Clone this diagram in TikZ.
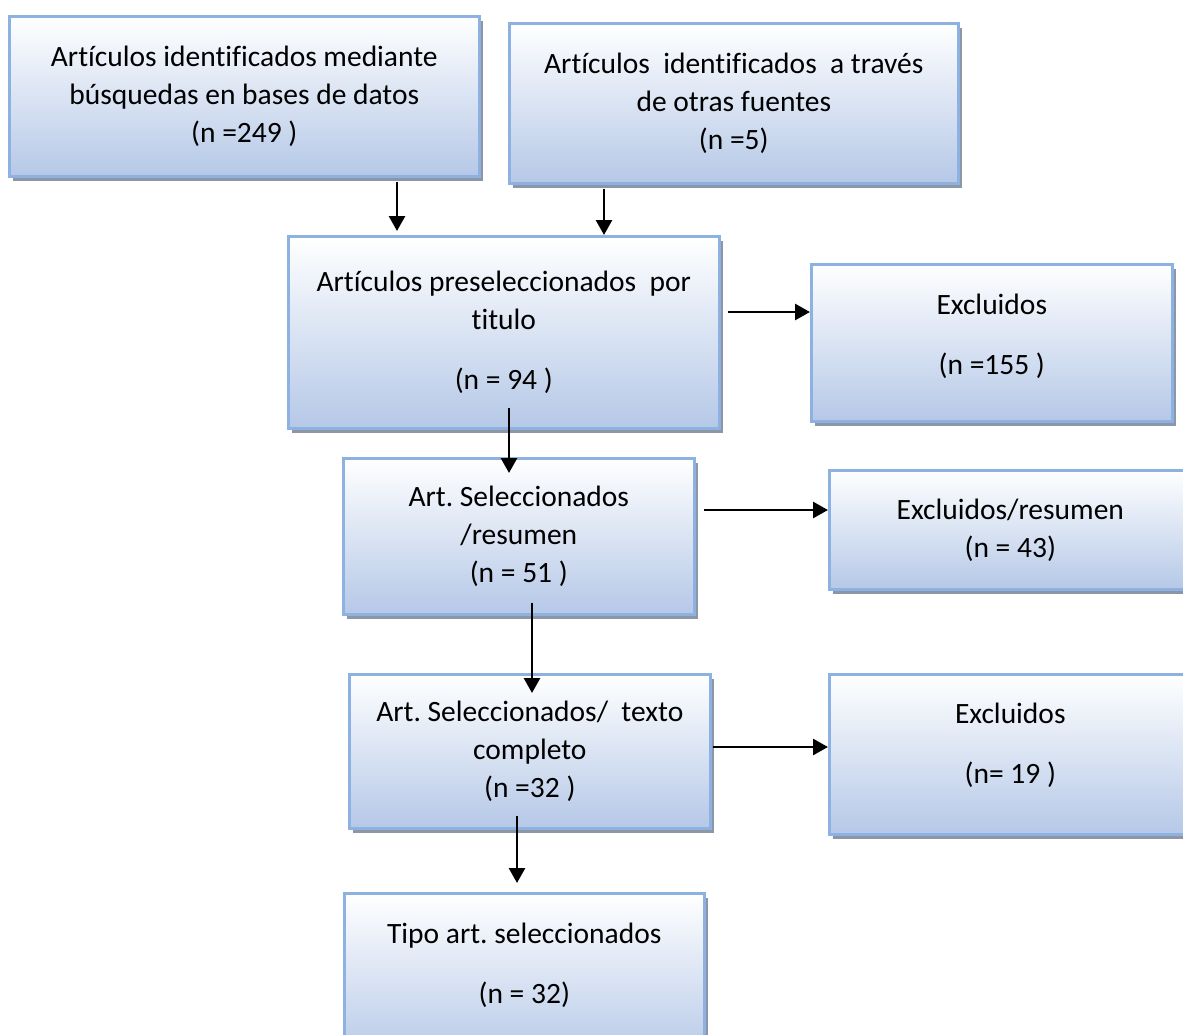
\documentclass[tikz,border=0pt]{standalone}
\usepackage{fontspec}
\setmainfont{Carlito}[Ligatures={NoCommon}]
\usetikzlibrary{shadows,arrows.meta}
\definecolor{boxline}{HTML}{8DB1E0}
\definecolor{boxbot}{HTML}{B5C8E7}
\definecolor{boxmid}{HTML}{D9E3F3}
\definecolor{shadowc}{HTML}{8C96A6}
\frenchspacing
\begin{document}
\begin{tikzpicture}[x=1pt,y=-1pt,
  pbox/.style={draw=boxline,line width=2.6pt,rectangle,anchor=north west,
    top color=white,middle color=boxmid,bottom color=boxbot,
    align=center,inner sep=0pt,
    font=\fontsize{29.5}{38}\selectfont,
    drop shadow={shadow xshift=4pt,shadow yshift=-5pt,fill=shadowc,opacity=1}},
  arr/.style={line width=2.8pt,-{Triangle[length=15pt,width=16pt]}}]
\useasboundingbox (0,0) rectangle (1183,1034);
\clip (0,0) rectangle (1183,1034);
\fill[white] (0,0) rectangle (1183,1034);

\node[pbox,minimum width=470pt,minimum height=160pt] (b1) at (8,15)
  {Artículos identificados mediante\\búsquedas en bases de datos\\(n =249 )};
\node[pbox,minimum width=449pt,minimum height=160pt] (b2) at (508,22)
  {Artículos\ \ identificados\ \ a través\\de otras fuentes\\(n =5)};
\node[pbox,minimum width=431pt,minimum height=192pt] (b3) at (287,235)
  {Artículos preseleccionados\ \ por\\titulo\\[22pt](n = 94 )};
\node[pbox,minimum width=361pt,minimum height=157pt] (e1) at (810,263)
  {Excluidos\\[22pt](n =155 )\\[-20pt]\mbox{}};
\node[pbox,minimum width=351pt,minimum height=156pt] (b4) at (342,457)
  {Art. Seleccionados\\/resumen\\(n = 51 )};
\node[pbox,minimum width=362pt,minimum height=119pt] (e2) at (828,469)
  {Excluidos/resumen\\(n = 43)};
\node[pbox,minimum width=361pt,minimum height=154pt] (b5) at (348,673)
  {Art. Seleccionados/\ \ texto\\completo\\(n =32 )};
\node[pbox,minimum width=362pt,minimum height=160pt] (e3) at (828,673)
  {Excluidos\\[22pt](n= 19 )\\[-16pt]\mbox{}};
\node[pbox,minimum width=360pt,minimum height=168pt] (b6) at (343,892)
  {Tipo art. seleccionados\\[22pt](n = 32)\\[-10pt]\mbox{}};

\coordinate (a1) at (397,0);
\coordinate (a2) at (604,0);
\coordinate (a3) at (0,312);
\coordinate (a4) at (509,0);
\coordinate (a5) at (0,510);
\coordinate (a6) at (532,0);
\coordinate (a7) at (0,747);
\coordinate (a8) at (517,0);

\draw[arr,shorten <=4pt,shorten >=4pt] (b1.south -| a1) -- (b3.north -| a1);
\draw[arr,shorten <=4pt] (b2.south -| a2) -- (b3.north -| a2);
\draw[arr,shorten <=7pt] (b3.east |- a3) -- (e1.west |- a3);
\draw[arr,shorten <=-22pt,shorten >=-16pt] (b3.south -| a4) -- (b4.north -| a4);
\draw[arr,shorten <=8pt] (b4.east |- a5) -- (e2.west |- a5);
\draw[arr,shorten <=-13pt,shorten >=-20pt] (b4.south -| a6) -- (b5.north -| a6);
\draw[arr,shorten <=1pt] (b5.east |- a7) -- (e3.west |- a7);
\draw[arr,shorten <=-14pt,shorten >=9pt] (b5.south -| a8) -- (b6.north -| a8);
\end{tikzpicture}
\end{document}
